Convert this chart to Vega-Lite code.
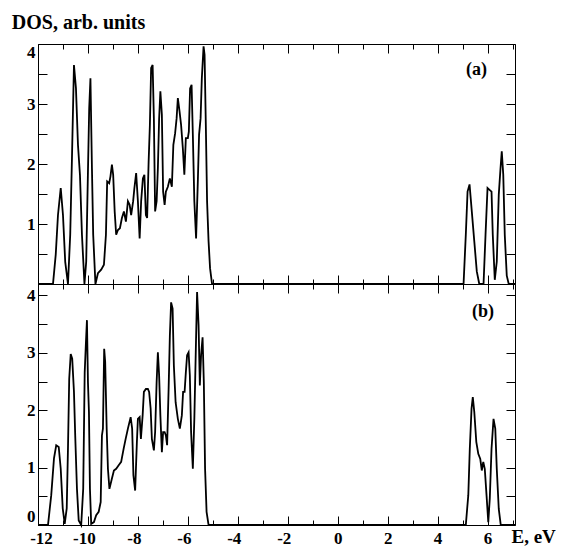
{
  "$schema": "https://vega.github.io/schema/vega-lite/v6.json",
  "padding": {"left": 10, "top": 11, "right": 0, "bottom": 0},
  "bounds": "flush",
  "spacing": 0,
  "config": {
    "view": {"stroke": "black", "strokeWidth": 1},
    "axis": {
      "domain": false, "grid": false, "tickColor": "black", "tickWidth": 1, "ticks": true,
      "labelColor": "black", "labelFont": "Liberation Serif", "labelFontWeight": "bold", "labelFontSize": 17,
      "titleColor": "black", "titleFont": "Liberation Serif", "titleFontWeight": "bold",
      "labelOverlap": false
    },
    "axisX": {"tickSize": {"condition": {"test": "datum.value % 2 === 0", "value": -9}, "value": -5}},
    "axisY": {"tickSize": -9},
    "text": {"font": "Liberation Serif", "fontWeight": "bold", "fontSize": 18, "color": "black"}
  },
  "datasets": {
    "a": [
      {"E": -12, "v": 0}, {"E": -11.4, "v": 0}, {"E": -11.29, "v": 0.49}, {"E": -11.2, "v": 1.15}, {"E": -11.09, "v": 1.6}, {"E": -11.0, "v": 1.15}, {"E": -10.91, "v": 0.37}, {"E": -10.8, "v": 0},
      {"E": -10.71, "v": 0.82}, {"E": -10.64, "v": 2.1}, {"E": -10.56, "v": 3.65}, {"E": -10.48, "v": 3.26}, {"E": -10.4, "v": 2.32}, {"E": -10.32, "v": 1.82}, {"E": -10.24, "v": 0.82}, {"E": -10.14, "v": 0},
      {"E": -10.07, "v": 0.37}, {"E": -10.0, "v": 1.87}, {"E": -9.95, "v": 2.93}, {"E": -9.9, "v": 3.43}, {"E": -9.84, "v": 1.93}, {"E": -9.79, "v": 0.82}, {"E": -9.7, "v": 0},
      {"E": -9.6, "v": 0.18}, {"E": -9.47, "v": 0.24}, {"E": -9.36, "v": 0.32}, {"E": -9.28, "v": 0.82}, {"E": -9.23, "v": 1.71}, {"E": -9.15, "v": 1.68}, {"E": -9.1, "v": 1.79}, {"E": -9.04, "v": 1.99},
      {"E": -8.99, "v": 1.82}, {"E": -8.93, "v": 1.21}, {"E": -8.87, "v": 0.82}, {"E": -8.8, "v": 0.9}, {"E": -8.72, "v": 0.93}, {"E": -8.64, "v": 1.1}, {"E": -8.56, "v": 1.21}, {"E": -8.48, "v": 1.04},
      {"E": -8.4, "v": 1.38}, {"E": -8.33, "v": 1.32}, {"E": -8.27, "v": 1.15}, {"E": -8.19, "v": 1.38}, {"E": -8.14, "v": 1.6}, {"E": -8.07, "v": 1.85}, {"E": -8.0, "v": 1.38}, {"E": -7.93, "v": 0.76},
      {"E": -7.87, "v": 1.38}, {"E": -7.8, "v": 1.76}, {"E": -7.74, "v": 1.82}, {"E": -7.68, "v": 1.15}, {"E": -7.63, "v": 1.1}, {"E": -7.57, "v": 2.04}, {"E": -7.52, "v": 2.65}, {"E": -7.47, "v": 3.6},
      {"E": -7.41, "v": 3.65}, {"E": -7.36, "v": 2.76}, {"E": -7.31, "v": 1.21}, {"E": -7.25, "v": 1.38}, {"E": -7.2, "v": 1.93}, {"E": -7.15, "v": 2.76}, {"E": -7.1, "v": 3.21}, {"E": -7.04, "v": 2.82},
      {"E": -6.99, "v": 1.54}, {"E": -6.93, "v": 1.32}, {"E": -6.88, "v": 1.54}, {"E": -6.8, "v": 1.62}, {"E": -6.72, "v": 1.76}, {"E": -6.64, "v": 1.62}, {"E": -6.58, "v": 2.32}, {"E": -6.51, "v": 2.51},
      {"E": -6.45, "v": 2.76}, {"E": -6.4, "v": 3.1}, {"E": -6.33, "v": 2.87}, {"E": -6.27, "v": 2.65}, {"E": -6.2, "v": 2.26}, {"E": -6.14, "v": 1.82}, {"E": -6.08, "v": 2.43}, {"E": -6.0, "v": 2.43},
      {"E": -5.96, "v": 2.54}, {"E": -5.91, "v": 3.26}, {"E": -5.85, "v": 3.32}, {"E": -5.8, "v": 2.49}, {"E": -5.74, "v": 1.38}, {"E": -5.67, "v": 0.76}, {"E": -5.6, "v": 1.71}, {"E": -5.55, "v": 2.49},
      {"E": -5.49, "v": 2.76}, {"E": -5.44, "v": 3.43}, {"E": -5.37, "v": 3.96}, {"E": -5.33, "v": 3.82}, {"E": -5.28, "v": 2.65}, {"E": -5.23, "v": 1.38}, {"E": -5.17, "v": 0.71}, {"E": -5.11, "v": 0.26},
      {"E": -5.03, "v": 0}, {"E": 5.04, "v": 0}, {"E": 5.13, "v": 0.82}, {"E": 5.2, "v": 1.54}, {"E": 5.28, "v": 1.66}, {"E": 5.36, "v": 1.26}, {"E": 5.47, "v": 0.71}, {"E": 5.57, "v": 0.21},
      {"E": 5.67, "v": 0}, {"E": 5.84, "v": 0}, {"E": 5.92, "v": 0.82}, {"E": 6.0, "v": 1.6}, {"E": 6.08, "v": 1.57}, {"E": 6.16, "v": 1.54}, {"E": 6.21, "v": 0.82}, {"E": 6.29, "v": 0.07},
      {"E": 6.37, "v": 0.37}, {"E": 6.45, "v": 1.49}, {"E": 6.52, "v": 1.93}, {"E": 6.57, "v": 2.21}, {"E": 6.63, "v": 1.82}, {"E": 6.69, "v": 0.82}, {"E": 6.77, "v": 0.14}, {"E": 6.85, "v": 0}, {"E": 7.1, "v": 0}
    ],
    "b": [
      {"E": -12, "v": 0}, {"E": -11.6, "v": 0}, {"E": -11.47, "v": 0.52}, {"E": -11.36, "v": 1.16}, {"E": -11.27, "v": 1.39}, {"E": -11.17, "v": 1.36}, {"E": -11.09, "v": 0.98}, {"E": -11.01, "v": 0.29},
      {"E": -10.93, "v": 0.02}, {"E": -10.85, "v": 0.29}, {"E": -10.8, "v": 1.33}, {"E": -10.75, "v": 2.55}, {"E": -10.69, "v": 2.98}, {"E": -10.63, "v": 2.9}, {"E": -10.56, "v": 2.32}, {"E": -10.51, "v": 1.56},
      {"E": -10.44, "v": 0.63}, {"E": -10.37, "v": 0.08}, {"E": -10.27, "v": 0}, {"E": -10.19, "v": 0.63}, {"E": -10.13, "v": 2.66}, {"E": -10.08, "v": 3.19}, {"E": -10.04, "v": 3.57}, {"E": -10.0, "v": 2.49},
      {"E": -9.96, "v": 1.97}, {"E": -9.92, "v": 0.63}, {"E": -9.87, "v": 0.02}, {"E": -9.76, "v": 0.05}, {"E": -9.67, "v": 0.17}, {"E": -9.57, "v": 0.23}, {"E": -9.49, "v": 0.4}, {"E": -9.44, "v": 1.56},
      {"E": -9.4, "v": 1.68}, {"E": -9.35, "v": 3.07}, {"E": -9.31, "v": 2.84}, {"E": -9.25, "v": 1.68}, {"E": -9.2, "v": 0.98}, {"E": -9.14, "v": 0.63}, {"E": -9.04, "v": 0.81}, {"E": -8.96, "v": 0.95},
      {"E": -8.87, "v": 0.98}, {"E": -8.77, "v": 1.04}, {"E": -8.67, "v": 1.1}, {"E": -8.57, "v": 1.33}, {"E": -8.49, "v": 1.5}, {"E": -8.4, "v": 1.68}, {"E": -8.29, "v": 1.88}, {"E": -8.23, "v": 1.68},
      {"E": -8.18, "v": 0.87}, {"E": -8.11, "v": 0.6}, {"E": -8.04, "v": 1.45}, {"E": -8.0, "v": 1.85}, {"E": -7.93, "v": 1.88}, {"E": -7.88, "v": 1.5}, {"E": -7.81, "v": 1.91}, {"E": -7.76, "v": 2.32},
      {"E": -7.68, "v": 2.37}, {"E": -7.6, "v": 2.37}, {"E": -7.55, "v": 2.32}, {"E": -7.49, "v": 2.03}, {"E": -7.44, "v": 1.5}, {"E": -7.36, "v": 1.3}, {"E": -7.31, "v": 1.62}, {"E": -7.25, "v": 2.49},
      {"E": -7.2, "v": 3.01}, {"E": -7.15, "v": 2.61}, {"E": -7.1, "v": 1.91}, {"E": -7.04, "v": 1.27}, {"E": -6.99, "v": 1.62}, {"E": -6.93, "v": 1.62}, {"E": -6.88, "v": 1.56}, {"E": -6.83, "v": 1.39},
      {"E": -6.77, "v": 2.37}, {"E": -6.72, "v": 3.3}, {"E": -6.67, "v": 3.88}, {"E": -6.61, "v": 3.77}, {"E": -6.56, "v": 2.78}, {"E": -6.49, "v": 2.14}, {"E": -6.4, "v": 1.85}, {"E": -6.32, "v": 1.68},
      {"E": -6.24, "v": 1.91}, {"E": -6.19, "v": 2.32}, {"E": -6.13, "v": 2.32}, {"E": -6.08, "v": 2.66}, {"E": -6.03, "v": 2.96}, {"E": -5.97, "v": 3.01}, {"E": -5.92, "v": 2.61}, {"E": -5.87, "v": 1.62},
      {"E": -5.8, "v": 0.98}, {"E": -5.74, "v": 1.85}, {"E": -5.68, "v": 3.07}, {"E": -5.63, "v": 4.06}, {"E": -5.57, "v": 3.48}, {"E": -5.52, "v": 2.43}, {"E": -5.47, "v": 2.96}, {"E": -5.41, "v": 3.27},
      {"E": -5.36, "v": 2.49}, {"E": -5.31, "v": 0.98}, {"E": -5.25, "v": 0.23}, {"E": -5.17, "v": 0}, {"E": 5.13, "v": 0}, {"E": 5.23, "v": 0.52}, {"E": 5.29, "v": 1.33}, {"E": 5.36, "v": 2.03},
      {"E": 5.41, "v": 2.23}, {"E": 5.47, "v": 1.97}, {"E": 5.55, "v": 1.45}, {"E": 5.63, "v": 1.24}, {"E": 5.71, "v": 1.15}, {"E": 5.77, "v": 0.95}, {"E": 5.83, "v": 1.1}, {"E": 5.89, "v": 0.98},
      {"E": 5.96, "v": 0.52}, {"E": 6.03, "v": 0.05}, {"E": 6.09, "v": 0.46}, {"E": 6.16, "v": 1.33}, {"E": 6.24, "v": 1.85}, {"E": 6.31, "v": 1.68}, {"E": 6.37, "v": 0.98}, {"E": 6.45, "v": 0.28},
      {"E": 6.53, "v": 0}, {"E": 7.1, "v": 0}
    ],
    "labA": [{"E": 5.56, "v": 3.56, "label": "(a)"}],
    "labB": [{"E": 5.82, "v": 3.72, "label": "(b)"}]
  },
  "vconcat": [
    {
      "width": 477,
      "height": 240,
      "resolve": {"axis": {"x": "independent", "y": "independent"}},
      "layer": [
        {
          "data": {"name": "a"},
          "mark": {"type": "line", "color": "black", "strokeWidth": 1.8},
          "encoding": {
            "x": {"field": "E", "type": "quantitative", "scale": {"domain": [-12, 7.1], "nice": false, "zero": false},
              "axis": {"orient": "bottom", "values": [-12,-11,-10,-9,-8,-7,-6,-5,-4,-3,-2,-1,0,1,2,3,4,5,6,7], "labels": false, "title": null}},
            "y": {"field": "v", "type": "quantitative", "scale": {"domain": [0, 4], "nice": false},
              "axis": {"orient": "left", "values": [0,0.5,1,1.5,2,2.5,3,3.5,4], "labelExpr": "datum.value % 1 === 0 && datum.value > 0 ? '' + datum.value : ''",
                "labelFlush": true, "labelPadding": 12,
                "title": "DOS, arb. units", "titleAngle": 0, "titleAlign": "left", "titleBaseline": "alphabetic",
                "titleX": -26.7, "titleY": -16, "titleFontSize": 20}}
          }
        },
        {
          "data": {"name": "labA"},
          "mark": {"type": "text", "align": "center", "baseline": "middle"},
          "encoding": {
            "x": {"field": "E", "type": "quantitative", "scale": {"domain": [-12, 7.1], "nice": false, "zero": false},
              "axis": {"orient": "top", "values": [-12,-11,-10,-9,-8,-7,-6,-5,-4,-3,-2,-1,0,1,2,3,4,5,6,7], "labels": false, "title": null}},
            "y": {"field": "v", "type": "quantitative", "scale": {"domain": [0, 4], "nice": false},
              "axis": {"orient": "right", "values": [0,0.5,1,1.5,2,2.5,3,3.5,4], "labels": false, "title": null}},
            "text": {"field": "label"}
          }
        }
      ]
    },
    {
      "width": 477,
      "height": 241,
      "resolve": {"axis": {"x": "independent", "y": "independent"}},
      "layer": [
        {
          "data": {"name": "b"},
          "mark": {"type": "line", "color": "black", "strokeWidth": 1.8},
          "encoding": {
            "x": {"field": "E", "type": "quantitative", "scale": {"domain": [-12, 7.1], "nice": false, "zero": false},
              "axis": {"orient": "bottom", "values": [-12,-11,-10,-9,-8,-7,-6,-5,-4,-3,-2,-1,0,1,2,3,4,5,6,7],
                "labelExpr": "datum.value % 2 === 0 ? '' + datum.value : ''", "labelFlush": false, "labelPadding": 14,
                "labelOffset": {"condition": [{"test": "datum.value === -12", "value": 3}, {"test": "datum.value < 0", "value": -4}], "value": 0},
                "title": "E, eV", "titleAlign": "left", "titleBaseline": "alphabetic", "titleX": 473, "titleY": 17.5, "titleFontSize": 19}},
            "y": {"field": "v", "type": "quantitative", "scale": {"domain": [0, 4.2], "nice": false},
              "axis": {"orient": "left", "values": [0,0.5,1,1.5,2,2.5,3,3.5,4], "labelExpr": "datum.value % 1 === 0 ? '' + datum.value : ''",
                "labelFlush": true, "labelPadding": 12, "title": null}}
          }
        },
        {
          "data": {"name": "labB"},
          "mark": {"type": "text", "align": "center", "baseline": "middle"},
          "encoding": {
            "x": {"field": "E", "type": "quantitative", "scale": {"domain": [-12, 7.1], "nice": false, "zero": false},
              "axis": {"orient": "top", "values": [-12,-11,-10,-9,-8,-7,-6,-5,-4,-3,-2,-1,0,1,2,3,4,5,6,7], "labels": false, "title": null}},
            "y": {"field": "v", "type": "quantitative", "scale": {"domain": [0, 4.2], "nice": false},
              "axis": {"orient": "right", "values": [0,0.5,1,1.5,2,2.5,3,3.5,4], "labels": false, "title": null}},
            "text": {"field": "label"}
          }
        }
      ]
    }
  ]
}
